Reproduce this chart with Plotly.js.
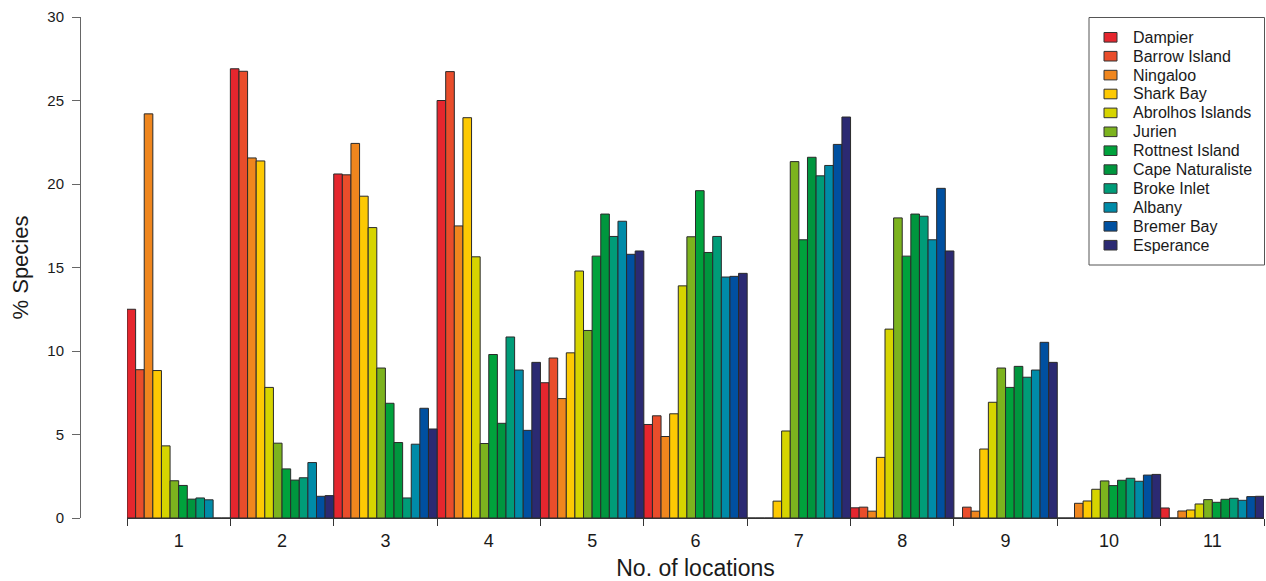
<!DOCTYPE html>
<html>
<head>
<meta charset="utf-8">
<script src="https://cdn.plot.ly/plotly-3.0.1.min.js"></script>
<style>html,body{margin:0;padding:0;background:#fff;}#chart{width:1266px;height:581px;}</style>
</head>
<body>
<div id="chart"></div>
<script>
const categories = ['1','2','3','4','5','6','7','8','9','10','11'];
const locations = ['Dampier','Barrow Island','Ningaloo','Shark Bay','Abrolhos Islands','Jurien','Rottnest Island','Cape Naturaliste','Broke Inlet','Albany','Bremer Bay','Esperance'];
const colors = ['#E5262E','#E94D2B','#EF861E','#FDC903','#D6D400','#7CB31E','#00A23C','#00963E','#009C78','#008BA8','#0050A0','#2B2A72'];

const dampier     = [12.5, 26.9, 20.6, 25.0, 8.1, 5.6, 0, 0.61, 0, 0, 0.6];
const barrow      = [8.88, 26.75, 20.55, 26.73, 9.58, 6.12, 0, 0.65, 0.65, 0, 0];
const ningaloo    = [24.2, 21.56, 22.43, 17.49, 7.15, 4.88, 0, 0.41, 0.41, 0.88, 0.42];
const sharkBay    = [8.83, 21.38, 19.27, 23.97, 9.89, 6.24, 1.01, 3.63, 4.13, 1.02, 0.48];
const abrolhos    = [4.32, 7.82, 17.39, 15.64, 14.79, 13.9, 5.21, 11.31, 6.93, 1.72, 0.84];
const jurien      = [2.23, 4.48, 8.98, 4.46, 11.23, 16.84, 21.34, 17.97, 8.98, 2.22, 1.1];
const rottnest    = [1.95, 2.94, 6.87, 9.79, 15.68, 19.6, 16.66, 15.68, 7.82, 1.94, 0.94];
const capeNat     = [1.13, 2.27, 4.52, 5.67, 18.2, 15.9, 21.6, 18.2, 9.08, 2.26, 1.12];
const brokeInlet  = [1.2, 2.41, 1.2, 10.84, 16.86, 16.86, 20.49, 18.07, 8.43, 2.38, 1.18];
const albany      = [1.09, 3.32, 4.42, 8.86, 17.77, 14.43, 21.11, 16.66, 8.86, 2.2, 1.06];
const bremerBay   = [0, 1.3, 6.57, 5.25, 15.79, 14.47, 22.37, 19.74, 10.52, 2.57, 1.28];
const esperance   = [0, 1.34, 5.33, 9.32, 15.99, 14.65, 24.01, 15.99, 9.32, 2.61, 1.3];

const series = [dampier, barrow, ningaloo, sharkBay, abrolhos, jurien, rottnest, capeNat, brokeInlet, albany, bremerBay, esperance];

const font = 'Liberation Sans, Arial, Helvetica, sans-serif';
const W = 1266, H = 581;
const M = {l: 80, r: 2, t: 17, b: 63};
const px = x => (x - M.l) / (W - M.l - M.r);
const py = y => (H - M.b - y) / (H - M.t - M.b);

const traces = series.map((vals, i) => ({
  type: 'bar',
  name: locations[i],
  x: categories,
  y: vals,
  showlegend: false,
  marker: {color: colors[i], line: {color: '#2a2a2a', width: 1}}
}));

// custom legend (R-style box)
const shapes = [{
  type: 'rect', xref: 'paper', yref: 'paper',
  x0: px(1089), x1: px(1264.5), y0: py(17.5), y1: py(265),
  line: {color: '#555', width: 1}, fillcolor: '#fff', layer: 'above'
}];
const annotations = [];
locations.forEach((name, i) => {
  const cy = 37.3 + 18.9 * i;
  shapes.push({
    type: 'rect', xref: 'paper', yref: 'paper',
    x0: px(1104), x1: px(1117), y0: py(cy + 4.8), y1: py(cy - 4.8),
    line: {color: '#333', width: 1}, fillcolor: colors[i], layer: 'above'
  });
  annotations.push({
    xref: 'paper', yref: 'paper', x: px(1131), y: py(cy),
    xanchor: 'left', yanchor: 'middle', showarrow: false,
    text: name, font: {family: font, size: 16, color: '#1a1a1a'}
  });
});

const layout = {
  width: W, height: H,
  margin: M,
  paper_bgcolor: '#fff', plot_bgcolor: '#fff',
  barmode: 'group', bargap: 0, bargroupgap: 0,
  font: {family: font, color: '#1a1a1a'},
  showlegend: false,
  shapes: shapes,
  annotations: annotations,
  xaxis: {
    type: 'category',
    domain: [47/1184, 1],
    showline: true, linecolor: '#333', linewidth: 1,
    ticks: 'outside', tickson: 'boundaries', ticklen: 7, tickcolor: '#333',
    ticklabelstandoff: 6,
    showgrid: false, zeroline: false,
    tickfont: {family: font, size: 18, color: '#1a1a1a'},
    title: {text: 'No. of locations', font: {family: font, size: 23, color: '#1a1a1a'}, standoff: 10}
  },
  yaxis: {
    range: [0, 30], dtick: 5,
    anchor: 'free', position: 0,
    showline: true, linecolor: '#666', linewidth: 1,
    ticks: 'outside', ticklen: 8, tickcolor: '#666',
    ticklabelstandoff: 5,
    showgrid: false, zeroline: false,
    tickfont: {family: font, size: 15, color: '#1a1a1a'},
    title: {text: '% Species', font: {family: font, size: 22, color: '#1a1a1a'}, standoff: 11}
  }
};

Plotly.newPlot('chart', traces, layout, {displayModeBar: false, staticPlot: true});
</script>
</body>
</html>
